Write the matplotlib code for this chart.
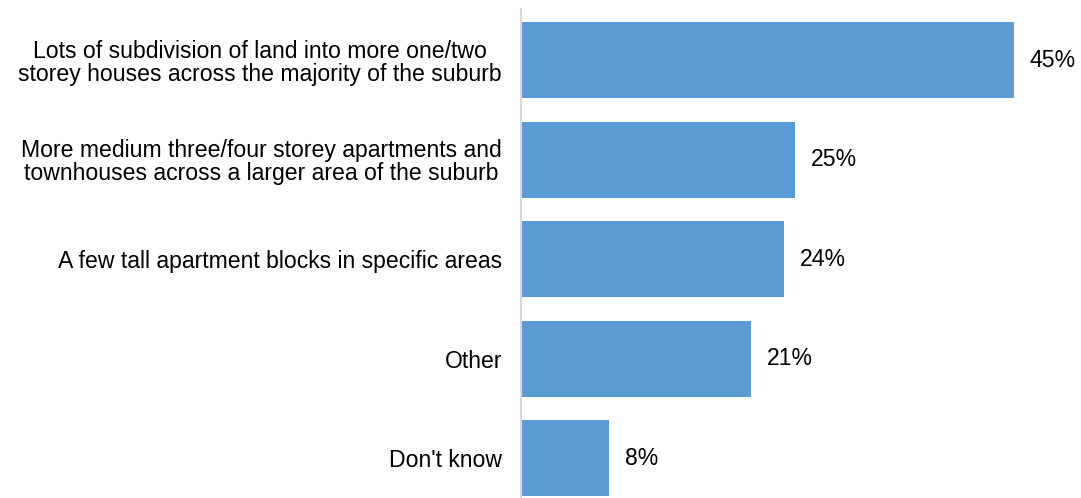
import matplotlib
matplotlib.use("Agg")
import matplotlib.pyplot as plt

categories = [
    "Lots of subdivision of land into more one/two\nstorey houses across the majority of the suburb",
    "More medium three/four storey apartments and\ntownhouses across a larger area of the suburb",
    "A few tall apartment blocks in specific areas",
    "Other",
    "Don't know",
]
values = [45, 25, 24, 21, 8]
value_labels = ["45%", "25%", "24%", "21%", "8%"]

plt.rcParams["font.family"] = ["Liberation Sans", "DejaVu Sans"]
FS = 16.6

W, H = 1081, 498
fig = plt.figure(figsize=(W / 100, H / 100), dpi=100)
ax = fig.add_axes([521 / W, 0, 560 / W, 489 / H])

ypos = list(range(len(categories)))
ax.barh(ypos, values, height=0.763, color="#5B9BD5", zorder=2)

for y, v, lab in zip(ypos, values, value_labels):
    ax.annotate(lab, xy=(v, y), xytext=(16, 0), textcoords="offset pixels",
                ha="left", va="center", fontsize=FS, color="#000000")

ax.set_xlim(0, 560 / ((1014 - 521) / 45))
ax.set_ylim(4.397, -0.512)

ax.set_yticks(ypos)
ax.set_yticklabels(categories, fontsize=FS, ha="right", multialignment="center",
                   linespacing=1.0)
ax.tick_params(axis="y", length=0, pad=13.7)
ax.set_xticks([])

for s in ["top", "right", "bottom"]:
    ax.spines[s].set_visible(False)
ax.spines["left"].set_color("#d9d9d9")
ax.spines["left"].set_linewidth(1.5)
ax.spines["left"].set_zorder(3)

fig.savefig("out.png", dpi=100)
